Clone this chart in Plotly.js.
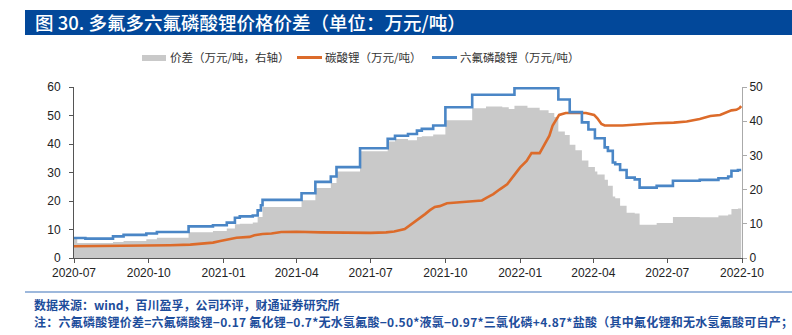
<!DOCTYPE html>
<html>
<head>
<meta charset="utf-8">
<script src="https://cdn.plot.ly/plotly-3.0.1.min.js"></script>
<style>
  html, body { margin:0; padding:0; background:#fff; }
  #wrap { position:relative; width:792px; height:335px; overflow:hidden; font-family:"Noto Sans CJK SC","Noto Sans",sans-serif; }
  #plot { position:absolute; left:0; top:0; width:792px; height:335px; }
  #titlebar { position:absolute; left:25px; top:10px; width:767px; height:25px; background:#02489a; color:#fff; font-size:18.5px; line-height:25px; padding-left:10px; box-sizing:border-box; white-space:nowrap; font-weight:500; }
  .leg { position:absolute; top:49px; height:16px; font-size:11.5px; line-height:16px; color:#333; white-space:nowrap; }
  .sym { position:absolute; }
  #rule { position:absolute; left:25px; top:291px; width:767px; height:2px; background:#9db8dc; }
  .note { position:absolute; left:34px; font-size:12px; color:#1d4d9b; white-space:nowrap; font-weight:600; line-height:16px; }
</style>
</head>
<body>
<div id="wrap">
  <div id="plot"></div>
  <div id="titlebar">图 30. 多氟多六氟磷酸锂价格价差（单位：万元/吨）</div>
  <div class="sym" style="left:142px;top:55px;width:24px;height:6px;background:#c9c9c9;"></div>
  <div class="leg" style="left:170px;">价差（万元/吨，右轴）</div>
  <div class="sym" style="left:297px;top:56px;width:25px;height:3px;background:#dc6b2a;"></div>
  <div class="leg" style="left:325px;">碳酸锂（万元/吨）</div>
  <div class="sym" style="left:432px;top:56px;width:25px;height:3px;background:#4a86c6;"></div>
  <div class="leg" style="left:460px;">六氟磷酸锂（万元/吨）</div>
  <div id="rule"></div>
  <div class="note" style="top:297px;">数据来源：wind，百川盈孚，公司环评，财通证券研究所</div>
  <div class="note" style="top:314px;letter-spacing:0.25px;">注：六氟磷酸锂价差=六氟磷酸锂−0.17 氟化锂−0.7*无水氢氟酸−0.50*液氯−0.97*三氯化磷+4.87*盐酸（其中氟化锂和无水氢氟酸可自产；</div>
</div>
<script>
// 六氟磷酸锂 (万元/吨, left axis)
var lipf6Dates = ['2020-07-01','2020-07-15','2020-08-18','2020-08-31','2020-09-28','2020-10-11','2020-11-19','2020-12-19',
  '2021-01-05','2021-01-15','2021-01-21','2021-02-06','2021-02-12','2021-02-16','2021-02-18','2021-04-07','2021-04-24',
  '2021-05-13','2021-05-20','2021-06-18','2021-07-22','2021-07-31','2021-08-16','2021-08-27','2021-09-02','2021-09-16',
  '2021-10-01','2021-11-03','2021-12-25','2022-02-17','2022-03-03','2022-03-18','2022-03-26','2022-04-03','2022-04-15',
  '2022-04-19','2022-04-25','2022-04-28','2022-05-04','2022-05-12','2022-05-22','2022-05-28','2022-06-18','2022-07-08',
  '2022-08-10','2022-09-02','2022-09-14','2022-09-18','2022-09-26','2022-09-30'];
var lipf6Values = [7.0,6.8,7.6,8.1,8.6,9.1,11.1,11.5,
  12.4,14.1,14.6,14.9,16.7,18.5,20.4,22.7,26.7,
  28.6,31.9,38.5,41.8,42.9,43.5,44.7,45.3,46.5,
  52.9,57.3,59.6,55.6,51.2,47.6,45.1,42.0,38.8,
  37.6,33.5,32.9,30.9,28.2,27.6,24.7,25.3,27.1,
  27.4,28.0,28.6,30.6,30.9,30.9];

// 碳酸锂 (万元/吨, left axis)
var li2co3Dates = ['2020-07-01','2020-10-02','2020-10-27','2020-11-21','2020-12-07','2020-12-19','2020-12-28','2021-01-09',
  '2021-01-17','2021-02-02','2021-02-08','2021-02-18','2021-03-01','2021-03-13','2021-04-01','2021-05-01','2021-06-01',
  '2021-07-01','2021-07-20','2021-07-30','2021-08-12','2021-08-20','2021-08-28','2021-09-06','2021-09-12','2021-09-18',
  '2021-09-24','2021-10-03','2021-10-11','2021-10-27','2021-11-15','2021-11-21','2021-11-29','2021-12-07','2021-12-16',
  '2021-12-24','2022-01-01','2022-01-09','2022-01-15','2022-01-25','2022-01-31','2022-02-06','2022-02-10','2022-02-14',
  '2022-02-18','2022-02-26','2022-03-23','2022-04-02','2022-04-06','2022-04-11','2022-04-15','2022-05-07','2022-05-28',
  '2022-06-17','2022-07-09','2022-07-25','2022-08-10','2022-08-23','2022-09-04','2022-09-12','2022-09-18','2022-09-24',
  '2022-09-28','2022-09-30'];
var li2co3Values = [4.1,4.3,4.5,4.7,5.0,5.4,6.0,6.7,
  7.1,7.4,8.0,8.4,8.6,9.1,9.2,9.0,8.8,
  8.8,9.0,9.3,10.2,11.8,13.5,15.4,16.8,17.9,
  18.2,19.2,19.4,19.8,20.2,21.2,22.4,24.1,25.9,
  28.8,31.8,34.1,36.8,36.8,39.6,42.9,46.5,48.2,
  50.2,50.9,50.9,50.2,49.0,47.0,46.5,46.5,47.0,
  47.3,47.5,47.9,48.8,49.8,50.2,51.2,51.8,52.0,
  52.6,53.3];

// 价差 (万元/吨, right axis)
var spreadDates = ['2020-07-01','2020-07-05','2020-08-18','2020-08-31','2020-09-28','2020-10-11','2020-11-19','2020-12-19',
  '2021-01-05','2021-01-15','2021-01-21','2021-02-06','2021-02-12','2021-02-18','2021-04-07','2021-04-24','2021-05-13',
  '2021-05-20','2021-06-18','2021-07-22','2021-07-31','2021-08-16','2021-08-27','2021-09-02','2021-09-16','2021-10-01',
  '2021-11-03','2021-11-20','2021-12-10','2021-12-18','2021-12-25','2022-01-10','2022-01-25','2022-02-05','2022-02-12',
  '2022-02-17','2022-02-25','2022-03-03','2022-03-10','2022-03-18','2022-03-26','2022-04-03','2022-04-06','2022-04-15',
  '2022-04-19','2022-04-25','2022-04-28','2022-05-04','2022-05-12','2022-05-22','2022-05-28','2022-06-18','2022-07-08',
  '2022-08-10','2022-09-02','2022-09-14','2022-09-18','2022-09-26','2022-09-30'];
var spreadValues = [6.0,4.4,4.7,5.0,5.5,5.9,7.5,7.9,
  8.6,9.9,10.0,10.4,12.0,14.9,16.9,20.5,21.9,
  25.3,31.2,34.1,34.8,34.4,35.4,35.6,36.1,40.3,
  43.8,44.3,44.1,43.6,44.5,43.9,43.2,42.4,41.2,
  37.0,36.0,33.1,31.5,28.5,26.6,25.3,24.4,22.9,
  21.1,18.0,17.5,15.3,13.2,13.0,9.7,10.2,12.0,
  11.9,12.4,12.7,14.3,14.5,14.5];

var xTickVals = ['2020-07-01','2020-10-01','2021-01-01','2021-04-01','2021-07-01','2021-10-01','2022-01-01','2022-04-01','2022-07-01','2022-10-01'];
var xTickText = ['2020-07','2020-10','2021-01','2021-04','2021-07','2021-10','2022-01','2022-04','2022-07','2022-10'];

var traces = [
  { x: spreadDates, y: spreadValues, type:'scatter', mode:'lines', line:{shape:'hv', width:0, color:'#c9c9c9'},
    fill:'tozeroy', fillcolor:'#c9c9c9', yaxis:'y', name:'价差（万元/吨，右轴）', hoverinfo:'skip' },
  { x: li2co3Dates, y: li2co3Values, type:'scatter', mode:'lines', line:{width:2.6, color:'#dc6b2a'},
    yaxis:'y2', name:'碳酸锂（万元/吨）' },
  { x: lipf6Dates, y: lipf6Values, type:'scatter', mode:'lines', line:{shape:'hv', width:2.6, color:'#4a86c6'},
    yaxis:'y2', name:'六氟磷酸锂（万元/吨）' }
];

var tickFont = { family:'"Liberation Sans", Arial, sans-serif', size:12, color:'#222' };

var layout = {
  width:792, height:335,
  margin:{ l:74, r:50, t:87, b:77, pad:0 },
  paper_bgcolor:'rgba(0,0,0,0)', plot_bgcolor:'rgba(0,0,0,0)',
  showlegend:false,
  xaxis:{ type:'date', range:['2020-07-01','2022-10-01'], tickvals:xTickVals, ticktext:xTickText,
    showgrid:false, zeroline:false, showline:true, linecolor:'#555', linewidth:1,
    ticks:'outside', ticklen:4, tickcolor:'#555', tickfont:tickFont },
  yaxis:{ side:'right', range:[0,50], tickvals:[0,10,20,30,40,50], showgrid:false, zeroline:false,
    showline:true, linecolor:'#aaa', linewidth:1, ticks:'outside', ticklen:4, tickcolor:'#aaa', tickfont:tickFont },
  yaxis2:{ overlaying:'y', side:'left', range:[0,60], tickvals:[0,10,20,30,40,50,60], showgrid:false, zeroline:false,
    showline:true, linecolor:'#555', linewidth:1, ticks:'outside', ticklen:4, tickcolor:'#555', tickfont:tickFont,
    ticklabelstandoff:6 }
};

Plotly.newPlot('plot', traces, layout, { displayModeBar:false, staticPlot:true });
</script>
</body>
</html>
